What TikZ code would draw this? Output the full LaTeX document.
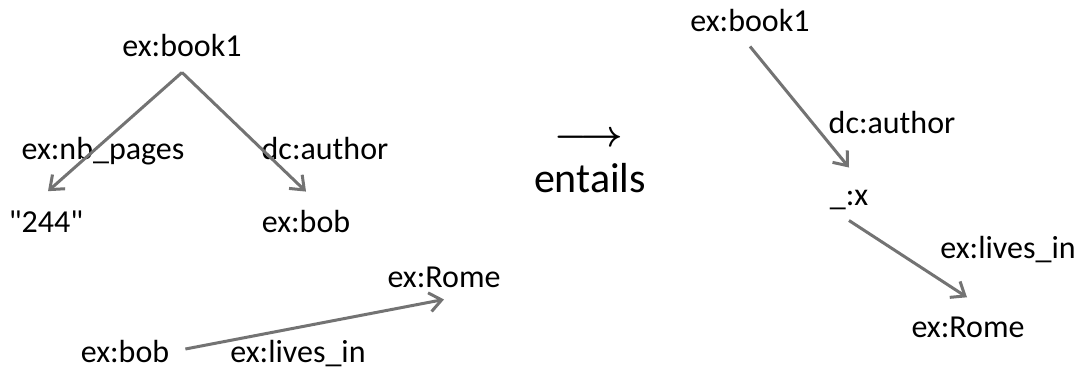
\RequirePackage{fix-cm}
\documentclass[tikz,border=0pt]{standalone}
\usepackage{fontspec}
\setmainfont{Carlito}[Ligatures=TeXOff]
\usetikzlibrary{arrows.meta}
\definecolor{edgegray}{RGB}{115,115,115}
\tikzset{
  lbl/.style={inner sep=0pt, anchor=base, font=\fontsize{32}{38}\selectfont},
  edge/.style={draw=edgegray, line width=3pt, -{Straight Barb[length=12pt,width=19pt,line width=3pt]}},
}
\begin{document}
\begin{tikzpicture}[x=1pt,y=-1pt]
\useasboundingbox (0,0) rectangle (1077,369);
% left graph
\node[lbl] (book1) at (182,57) {ex:book1};
\node[lbl] (nbp) at (103,159) {ex:nb\_pages};
\node[lbl] (auth1) at (325,159) {dc:author};
\node[lbl] (p244) at (46,232) {"244"};
\node[lbl] (bob1) at (306,232) {ex:bob};
\node[lbl] (rome1) at (444,287) {ex:Rome};
\node[lbl] (bob2) at (125,362) {ex:bob};
\node[lbl] (lives1) at (298,362) {ex:lives\_in};
\draw[edge] ([yshift=-15pt]book1.south) -- ([xshift=2pt,yshift=19pt]p244.north);
\draw[edge] ([yshift=-15pt]book1.south) -- ([yshift=18pt]bob1.north);
\draw[edge] ([xshift=16pt,yshift=2pt]bob2.east) -- ([yshift=-12pt]rome1.south);
% middle
\node[inner sep=0pt, font=\fontsize{37}{40}\selectfont\boldmath] (arr) at (589,139) {$\longrightarrow$};
\node[lbl, font=\fontsize{42}{48}\selectfont] (ent) at (590,192) {entails};
% right graph
\node[lbl] (book2) at (750,32) {ex:book1};
\node[lbl] (auth2) at (892,133) {dc:author};
\node[lbl] (bx) at (849,205) {\_:x};
\node[lbl] (lives2) at (1008,258) {ex:lives\_in};
\node[lbl] (rome2) at (968,337) {ex:Rome};
\draw[edge] ([yshift=-14pt]book2.south) -- ([yshift=22pt]bx.north);
\draw[edge] ([yshift=-11pt]bx.south) -- ([xshift=-1pt,yshift=19pt]rome2.north);
\end{tikzpicture}
\end{document}
